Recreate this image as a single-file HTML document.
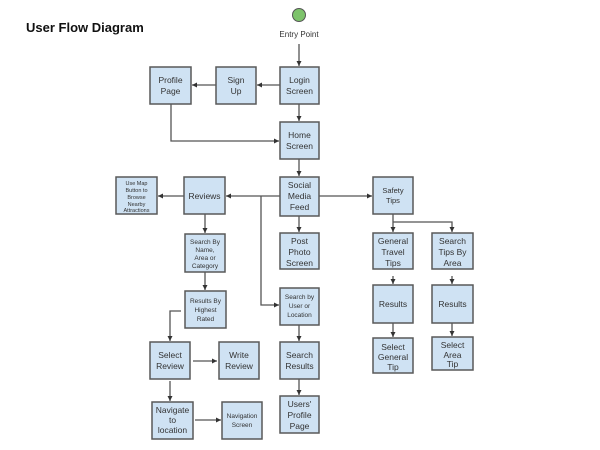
<!DOCTYPE html>
<html><head><meta charset="utf-8"><style>
html,body{margin:0;padding:0;background:#fff;width:600px;height:450px;overflow:hidden}
svg{display:block}
text{font-family:"Liberation Sans",Arial,sans-serif;fill:#333}
.b{fill:#cfe2f3;stroke:#595959;stroke-width:1.5}
.l{stroke:#555;stroke-width:1.3;fill:none}
.t{font-size:8.5px;text-anchor:middle}
.s{font-size:6.5px;text-anchor:middle}
.xs{font-size:5.5px;text-anchor:middle}
</style></head><body>
<svg width="600" height="450" viewBox="0 0 600 450" xmlns="http://www.w3.org/2000/svg">
<defs><marker id="a" markerWidth="6" markerHeight="6" refX="5" refY="3" orient="auto" markerUnits="userSpaceOnUse"><path d="M0,0.5 L5,3 L0,5.5z" fill="#333"/></marker></defs>
<text x="26" y="32" style="font-size:13px;font-weight:bold;fill:#111">User Flow Diagram</text>
<circle cx="299" cy="15" r="6.5" fill="#7dc36b" stroke="#555" stroke-width="1"/>
<text x="299" y="37" class="t" style="font-size:8px">Entry Point</text>

<g class="l">
<line x1="299" y1="44" x2="299" y2="66" marker-end="url(#a)"/>
<line x1="280" y1="85" x2="257" y2="85" marker-end="url(#a)"/>
<line x1="216" y1="85" x2="192" y2="85" marker-end="url(#a)"/>
<line x1="299" y1="104" x2="299" y2="121" marker-end="url(#a)"/>
<polyline points="171,104 171,141 279,141" marker-end="url(#a)"/>
<line x1="299" y1="159" x2="299" y2="176" marker-end="url(#a)"/>
<line x1="280" y1="196" x2="226" y2="196" marker-end="url(#a)"/>
<line x1="184" y1="196" x2="158" y2="196" marker-end="url(#a)"/>
<polyline points="261,196 261,305 279,305" marker-end="url(#a)"/>
<line x1="299" y1="216" x2="299" y2="232" marker-end="url(#a)"/>
<line x1="205" y1="214" x2="205" y2="233" marker-end="url(#a)"/>
<line x1="205" y1="272" x2="205" y2="290" marker-end="url(#a)"/>
<polyline points="181,311 170,311 170,341" marker-end="url(#a)"/>
<line x1="193" y1="361" x2="217" y2="361" marker-end="url(#a)"/>
<line x1="170" y1="381" x2="170" y2="401" marker-end="url(#a)"/>
<line x1="195" y1="420" x2="221" y2="420" marker-end="url(#a)"/>
<line x1="299" y1="325" x2="299" y2="341" marker-end="url(#a)"/>
<line x1="299" y1="379" x2="299" y2="395" marker-end="url(#a)"/>
<line x1="319" y1="196" x2="372" y2="196" marker-end="url(#a)"/>
<line x1="393" y1="214" x2="393" y2="232" marker-end="url(#a)"/>
<polyline points="393,222 452,222 452,232" marker-end="url(#a)"/>
<line x1="393" y1="276" x2="393" y2="284" marker-end="url(#a)"/>
<line x1="452" y1="276" x2="452" y2="284" marker-end="url(#a)"/>
<line x1="393" y1="323" x2="393" y2="337" marker-end="url(#a)"/>
<line x1="452" y1="323" x2="452" y2="336" marker-end="url(#a)"/>
</g>

<rect class="b" x="150" y="67" width="41" height="37"/>
<text class="t" x="170.5" y="83">Profile</text><text class="t" x="170.5" y="94">Page</text>
<rect class="b" x="216" y="67" width="40" height="37"/>
<text class="t" x="236" y="83">Sign</text><text class="t" x="236" y="94">Up</text>
<rect class="b" x="280" y="67" width="39" height="37"/>
<text class="t" x="299.5" y="83">Login</text><text class="t" x="299.5" y="94">Screen</text>
<rect class="b" x="280" y="122" width="39" height="37"/>
<text class="t" x="299.5" y="138">Home</text><text class="t" x="299.5" y="149">Screen</text>
<rect class="b" x="280" y="177" width="39" height="39"/>
<text class="t" x="299.5" y="188">Social</text><text class="t" x="299.5" y="199">Media</text><text class="t" x="299.5" y="210">Feed</text>
<rect class="b" x="184" y="177" width="41" height="37"/>
<text class="t" x="204.5" y="199">Reviews</text>
<rect class="b" x="116" y="177" width="41" height="37"/>
<text class="xs" x="136.5" y="185">Use Map</text><text class="xs" x="136.5" y="192">Button to</text><text class="xs" x="136.5" y="199">Browse</text><text class="xs" x="136.5" y="206">Nearby</text><text class="xs" x="136.5" y="212">Attractions</text>
<rect class="b" x="185" y="234" width="40" height="38"/>
<text class="s" x="205" y="244">Search By</text><text class="s" x="205" y="252">Name,</text><text class="s" x="205" y="260">Area or</text><text class="s" x="205" y="268">Category</text>
<rect class="b" x="280" y="233" width="39" height="36"/>
<text class="t" x="299.5" y="244">Post</text><text class="t" x="299.5" y="255">Photo</text><text class="t" x="299.5" y="266">Screen</text>
<rect class="b" x="185" y="291" width="41" height="37"/>
<text class="s" x="205.5" y="303">Results By</text><text class="s" x="205.5" y="312">Highest</text><text class="s" x="205.5" y="321">Rated</text>
<rect class="b" x="280" y="288" width="39" height="37"/>
<text class="s" x="299.5" y="299">Search by</text><text class="s" x="299.5" y="308">User or</text><text class="s" x="299.5" y="317">Location</text>
<rect class="b" x="150" y="342" width="40" height="37"/>
<text class="t" x="170" y="358">Select</text><text class="t" x="170" y="369">Review</text>
<rect class="b" x="219" y="342" width="40" height="37"/>
<text class="t" x="239" y="358">Write</text><text class="t" x="239" y="369">Review</text>
<rect class="b" x="280" y="342" width="39" height="37"/>
<text class="t" x="299.5" y="358">Search</text><text class="t" x="299.5" y="369">Results</text>
<rect class="b" x="152" y="402" width="41" height="37"/>
<text class="t" x="172.5" y="413">Navigate</text><text class="t" x="172.5" y="423">to</text><text class="t" x="172.5" y="433">location</text>
<rect class="b" x="222" y="402" width="40" height="37"/>
<text class="s" x="242" y="418">Navigation</text><text class="s" x="242" y="427">Screen</text>
<rect class="b" x="280" y="396" width="39" height="37"/>
<text class="t" x="299.5" y="407">Users'</text><text class="t" x="299.5" y="418">Profile</text><text class="t" x="299.5" y="429">Page</text>
<rect class="b" x="373" y="177" width="40" height="37"/>
<text class="t" x="393" y="193" style="font-size:7.5px">Safety</text><text class="t" x="393" y="203" style="font-size:7.5px">Tips</text>
<rect class="b" x="373" y="233" width="40" height="36"/>
<text class="t" x="393" y="244">General</text><text class="t" x="393" y="255">Travel</text><text class="t" x="393" y="266">Tips</text>
<rect class="b" x="432" y="233" width="41" height="36"/>
<text class="t" x="452.5" y="244">Search</text><text class="t" x="452.5" y="255">Tips By</text><text class="t" x="452.5" y="266">Area</text>
<rect class="b" x="373" y="285" width="40" height="38"/>
<text class="t" x="393" y="307">Results</text>
<rect class="b" x="432" y="285" width="41" height="38"/>
<text class="t" x="452.5" y="307">Results</text>
<rect class="b" x="373" y="338" width="40" height="35"/>
<text class="t" x="393" y="350">Select</text><text class="t" x="393" y="360">General</text><text class="t" x="393" y="370">Tip</text>
<rect class="b" x="432" y="337" width="41" height="33"/>
<text class="t" x="452.5" y="348">Select</text><text class="t" x="452.5" y="358">Area</text><text class="t" x="452.5" y="367">Tip</text>
</svg>
</body></html>
